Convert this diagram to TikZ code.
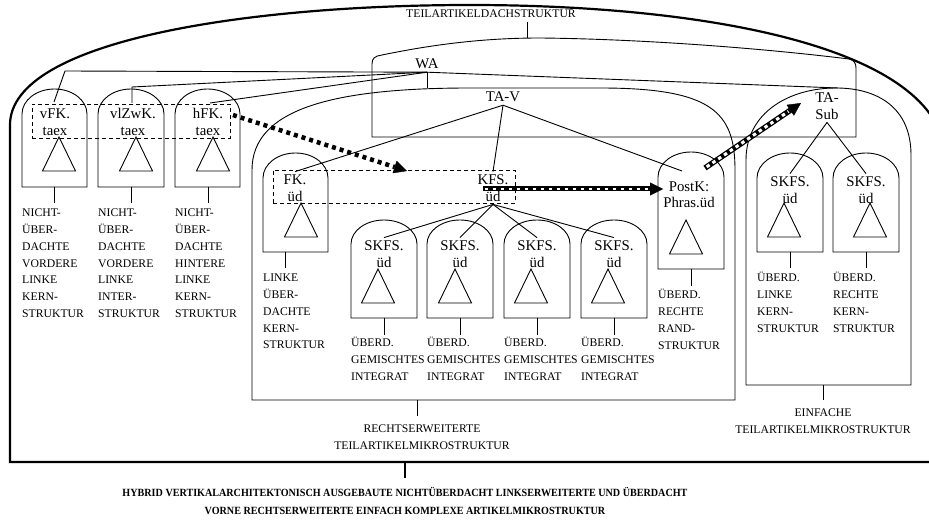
\documentclass[tikz,border=0pt]{standalone}
\usepackage{fontspec}
\setmainfont{Liberation Serif}
\newfontfamily\condserif[FakeStretch=0.92]{Liberation Serif}
\usetikzlibrary{arrows.meta}

\newcommand\lblfont{\fontsize{11.7bp}{16.7bp}\selectfont}
\newcommand\txtfont{\fontsize{14.8bp}{16.5bp}\selectfont}
\newcommand\ttlfont{\condserif\bfseries\fontsize{11bp}{18bp}\selectfont}

% dome-topped box: left, right, top, bottom, height of the arch
\newcommand{\domebox}[5]{%
  \pgfmathsetmacro\dbmid{(#1+#2)/2}%
  \pgfmathsetmacro\dbctl{0.552*(#2-#1)/2}%
  \pgfmathsetmacro\dbside{#3+#5}%
  \pgfmathsetmacro\dbknee{#3+0.448*#5}%
  \draw[boxline] (#1,#4) -- (#1,\dbside)
    .. controls (#1,\dbknee) and (\dbmid-\dbctl,#3) .. (\dbmid,#3)
    .. controls (\dbmid+\dbctl,#3) and (#2,\dbknee) .. (#2,\dbside)
    -- (#2,#4) -- cycle;}

% small tree triangle: apex x, apex y
\newcommand{\treetri}[2]{%
  \draw[boxline] (#1,#2) -- (#1-16.5,#2+34) -- (#1+16.5,#2+34) -- cycle;}

\begin{document}
\begin{tikzpicture}[x=1bp, y=-1bp, line join=miter,
  boxline/.style={line width=0.9bp},
  conn/.style={line width=0.9bp},
  frame/.style={line width=2.2bp},
  grpbox/.style={draw, line width=0.9bp, dash pattern=on 4bp off 3bp, inner sep=0, anchor=north west},
  lbl/.style={font=\lblfont, align=left, inner sep=0, anchor=base west},
  clbl/.style={font=\lblfont, align=center, inner sep=0},
  ntext/.style={font=\txtfont, align=center, inner xsep=0, inner ysep=3bp},
  tip/.style={-{Triangle[length=13bp, width=13bp, line width=0.4bp]}},
  ]
\useasboundingbox (0,0) rectangle (929,523);

% ---------- outer frame of the whole article microstructure ----------
\draw[frame] (945,462) -- (10,462) -- (10,125)
  .. controls (10,40) and (250,5) .. (470,5)
  .. controls (700,5) and (930,45) .. (945,150) -- cycle;
\coordinate (frameBot) at (405,462);
\coordinate (frameStem) at (405,478);
\draw[frame] (frameBot) -- (frameStem);
\node[font=\ttlfont, align=center, inner sep=0] (title) at (405,501)
  {HYBRID VERTIKALARCHITEKTONISCH AUSGEBAUTE NICHTÜBERDACHT LINKSERWEITERTE UND ÜBERDACHT\\
   VORNE RECHTSERWEITERTE EINFACH KOMPLEXE ARTIKELMIKROSTRUKTUR};

% ---------- roof structure ----------
\draw[boxline] (372,137) -- (372,64) .. controls (372,58) and (375,56) .. (382,55)
  .. controls (440,43) and (490,38) .. (540,38)
  .. controls (640,39) and (760,48) .. (849,59)
  .. controls (854,60) and (856,63) .. (856,68) -- (856,137) -- cycle;
\node[clbl] (roof) at (491,14) {TEILARTIKELDACHSTRUKTUR};
\coordinate (roofA) at (527,22);
\coordinate (roofB) at (527,38);
\draw[conn] (roofA) -- (roofB);

% ---------- right-extended part-article microstructure ----------
\draw[boxline] (252,400) -- (252,170) .. controls (252,110) and (330,88) .. (470,88)
  -- (600,88) .. controls (712,88) and (735,112) .. (735,170) -- (735,400) -- cycle;
\coordinate (rechA) at (417,400);
\coordinate (rechB) at (417,416);
\draw[conn] (rechA) -- (rechB);
\node[clbl, anchor=north] (rechlbl) at (422,425) {RECHTSERWEITERTE\\TEILARTIKELMIKROSTRUKTUR};

% ---------- simple part-article microstructure ----------
\draw[boxline] (746,385) -- (746,160) .. controls (746,112) and (790,88) .. (836,88)
  .. controls (878,88) and (911,108) .. (911,155) -- (911,385) -- cycle;
\coordinate (einA) at (823,385);
\coordinate (einB) at (823,400);
\draw[conn] (einA) -- (einB);
\node[clbl, anchor=north] (einlbl) at (823,409) {EINFACHE\\TEILARTIKELMIKROSTRUKTUR};

% ---------- dome boxes ----------
\domebox{22}{87}{89}{187}{25}
\domebox{98}{164}{89}{187}{25}
\domebox{175}{240}{89}{187}{25}
\domebox{263}{328}{153}{252}{25}
\domebox{351}{417}{220}{318}{24}
\domebox{427}{493}{220}{318}{24}
\domebox{504}{570}{220}{318}{24}
\domebox{581}{647}{220}{318}{24}
\domebox{658}{724}{152}{269}{25}
\domebox{757}{823}{153}{252}{25}
\domebox{833}{899}{153}{252}{25}

\treetri{59}{137}
\treetri{136}{137}
\treetri{213}{137}
\treetri{301}{203}
\treetri{378}{269}
\treetri{455}{269}
\treetri{531}{269}
\treetri{608}{269}
\treetri{686}{220}
\treetri{784}{203}
\treetri{870}{203}

% ---------- dashed groups ----------
\node[grpbox, minimum width=198bp, minimum height=34bp] (grpL) at (32,104) {};
\node[grpbox, minimum width=242bp, minimum height=33bp] (grpR) at (273,170) {};

% ---------- node texts ----------
\node[ntext] (wa) at (427,64) {WA};
\node[ntext] (tav) at (503,97) {TA-V};
\node[ntext] (tasub) at (827,106) {TA-\\Sub};
\node[ntext] (vfk) at (55,122) {vFK.\\taex};
\node[ntext] (vlz) at (133,122) {vlZwK.\\taex};
\node[ntext] (hfk) at (208,122) {hFK.\\taex};
\node[ntext] (fk) at (295,188) {FK.\\üd};
\node[ntext] (kfs) at (493,188) {KFS.\\üd};
\node[ntext] (sk1) at (384,254) {SKFS.\\üd};
\node[ntext] (sk2) at (460,254) {SKFS.\\üd};
\node[ntext] (sk3) at (537,254) {SKFS.\\üd};
\node[ntext] (sk4) at (614,254) {SKFS.\\üd};
\node[ntext] (postk) at (689,195) {PostK:\\Phras.üd};
\node[ntext] (ska) at (790,190) {SKFS.\\üd};
\node[ntext] (skb) at (866,190) {SKFS.\\üd};

% ---------- connectors ----------
\coordinate (wl1) at (65,71);
\coordinate (vfkTop) at (54,102);
\coordinate (wl2) at (132,87);
\coordinate (vlzTop) at (132,103);
\coordinate (hfkTop) at (210,103);
\coordinate (einTop) at (838,88);
\coordinate (rechTop) at (427,88);
\coordinate (postkTop) at (682,171);
\draw[conn] (wa.south) -- (wl1) -- (vfkTop);
\draw[conn] (wa.south) -- (wl2) -- (vlzTop);
\draw[conn] (wa.south) -- (hfkTop);
\draw[conn] (wa.south) -- (einTop);
\draw[conn] (wa.south) -- (rechTop);
\draw[conn] (tav.south) -- (fk.north);
\draw[conn] (tav.south) -- (kfs.north);
\draw[conn] (tav.south) -- (postkTop);
\foreach \s in {sk1,sk2,sk3,sk4} \draw[conn] (kfs.south) -- (\s.north);
\draw[conn] (tasub.south) -- (ska.north);
\draw[conn] (tasub.south) -- (skb.north);

% ---------- stems and labels (anchored at the baseline of the last line) ----------
\foreach \n/\x/\a/\b in {s1/54.5/187/203, s2/131/187/203, s3/208/187/203,
    s4/285/252/268, s5/384/318/335, s6/460/318/335, s7/537/318/335, s8/614/318/335,
    s9/691/269/286, s10/790/252/268, s11/866/252/268}
  {\coordinate (\n a) at (\x,\a); \coordinate (\n b) at (\x,\b); \draw[conn] (\n a) -- (\n b);}

\node[lbl] (l1) at (22,317.2) {NICHT-\\ÜBER-\\DACHTE\\VORDERE\\LINKE\\KERN-\\STRUKTUR};
\node[lbl] (l2) at (98,317.2) {NICHT-\\ÜBER-\\DACHTE\\VORDERE\\LINKE\\INTER-\\STRUKTUR};
\node[lbl] (l3) at (175,317.2) {NICHT-\\ÜBER-\\DACHTE\\HINTERE\\LINKE\\KERN-\\STRUKTUR};
\node[lbl] (l4) at (263,348.8) {LINKE\\ÜBER-\\DACHTE\\KERN-\\STRUKTUR};
\node[lbl] (l5) at (351,380.4) {ÜBERD.\\GEMISCHTES\\INTEGRAT};
\node[lbl] (l6) at (427,380.4) {ÜBERD.\\GEMISCHTES\\INTEGRAT};
\node[lbl] (l7) at (504,380.4) {ÜBERD.\\GEMISCHTES\\INTEGRAT};
\node[lbl] (l8) at (581,380.4) {ÜBERD.\\GEMISCHTES\\INTEGRAT};
\node[lbl] (l9) at (658,349.1) {ÜBERD.\\RECHTE\\RAND-\\STRUKTUR};
\node[lbl] (l10) at (757,332.1) {ÜBERD.\\LINKE\\KERN-\\STRUKTUR};
\node[lbl] (l11) at (833,332.1) {ÜBERD.\\RECHTE\\KERN-\\STRUKTUR};

% ---------- movement arrows ----------
\coordinate (a1s) at (233,115);
\coordinate (a1e) at (407,171);
\coordinate (a2s) at (483,189);
\coordinate (a2e) at (663,189);
\coordinate (a3s) at (705,168);
\coordinate (a3e) at (801,103);
\draw[line width=4.5bp, dash pattern=on 4bp off 4bp, tip] (a1s) -- (a1e);
\draw[line width=5bp, tip] (a2s) -- (a2e);
\draw[white, line width=2.2bp, dash pattern=on 3bp off 5bp, shorten >=15bp, shorten <=2bp] (a2s) -- (a2e);
\draw[line width=5.5bp, tip] (a3s) -- (a3e);
\draw[white, line width=3bp, dash pattern=on 3.5bp off 3.5bp, shorten >=15bp, shorten <=2bp] (a3s) -- (a3e);
\end{tikzpicture}
\end{document}
